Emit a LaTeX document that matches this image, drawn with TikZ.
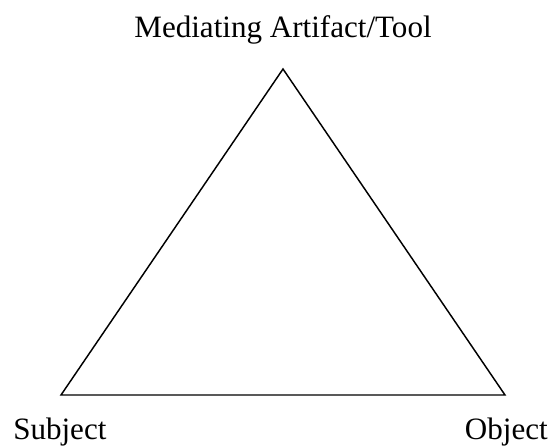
\documentclass[tikz,border=0pt]{standalone}
\usepackage{fontspec}
\setmainfont{Liberation Serif}
\tikzstyle{caption} = [inner sep=0pt, font={\fontsize{23.3}{28}\selectfont}]
\tikzstyle{side} = [draw=black, line width=1.1pt, line join=miter]

\begin{document}
\begin{tikzpicture}[x=0.75pt, y=-0.75pt]
  \useasboundingbox (0,0) rectangle (553,446);
  \coordinate (tool) at (283,69);
  \coordinate (subj) at (61,395);
  \coordinate (obj) at (505,395);
  \draw[side] (tool)--(subj)--(obj)--cycle;
  \node[caption, anchor=base](toolname) at (283,37){Mediating Artifact/Tool};
  \node[caption, anchor=base west](subjname) at (13,439){Subject};
  \node[caption, anchor=base east](objname) at (548,439){Object};
\end{tikzpicture}
\end{document}
